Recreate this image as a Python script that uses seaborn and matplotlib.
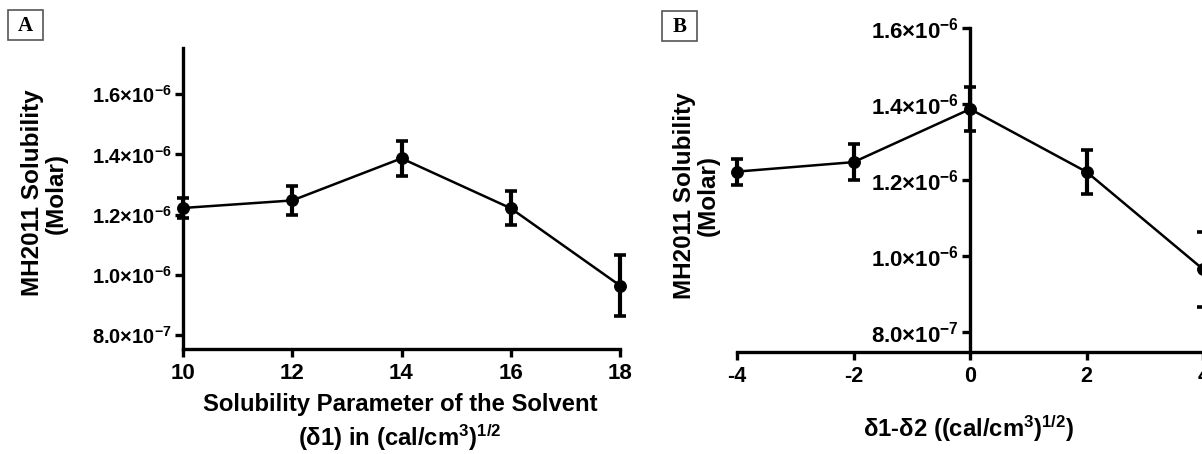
import matplotlib
matplotlib.use("Agg")
import matplotlib.pyplot as plt
import seaborn as sns
import numpy as np
from matplotlib.ticker import FuncFormatter
from matplotlib.patches import Rectangle

# ---- data ----
solvent_delta = [10, 12, 14, 16, 18]          # panel A x
delta_diff = [-4, -2, 0, 2, 4]                # panel B x
solubility = [1.222e-6, 1.247e-6, 1.387e-6, 1.221e-6, 0.964e-6]
solubility_err = [0.034e-6, 0.047e-6, 0.058e-6, 0.057e-6, 0.100e-6]
y_ticks = [0.8e-6, 1.0e-6, 1.2e-6, 1.4e-6, 1.6e-6]
xa_ticks = [10, 12, 14, 16, 18]
xb_ticks = [-4, -2, 0, 2, 4]

sns.set_theme(style="ticks")
plt.rcParams["font.family"] = ["Liberation Sans", "DejaVu Sans"]
plt.rcParams["font.weight"] = "bold"
plt.rcParams["mathtext.fontset"] = "custom"
plt.rcParams["mathtext.rm"] = "Liberation Sans:bold"
plt.rcParams["mathtext.bf"] = "Liberation Sans:bold"
plt.rcParams["mathtext.it"] = "Liberation Sans:bold"
plt.rcParams["axes.linewidth"] = 2.4
plt.rcParams["axes.unicode_minus"] = False
plt.rcParams["text.color"] = "black"
plt.rcParams["axes.labelcolor"] = "black"
plt.rcParams["xtick.color"] = "black"
plt.rcParams["ytick.color"] = "black"

W, H = 1202, 454
fig = plt.figure(figsize=(W / 100, H / 100), dpi=100)


def sci(v, pos):
    m, e = f"{v:.1e}".split("e")
    return f"{m}×10$^{{{int(e)}}}$"


def draw(ax, xs, xticks, xlim, ylim, ytick_size, xtick_size):
    sns.lineplot(x=xs, y=solubility, ax=ax, color="black", marker="o",
                 markersize=8.5, linewidth=1.8, markeredgecolor="black",
                 clip_on=False, zorder=4)
    ax.errorbar(xs, solubility, yerr=solubility_err, fmt="none", ecolor="black",
                elinewidth=3, capsize=4.2, capthick=2.6, clip_on=False, zorder=5)
    ax.set_xlim(*xlim)
    ax.set_ylim(*ylim)
    ax.set_xticks(xticks)
    ax.set_yticks(y_ticks)
    ax.yaxis.set_major_formatter(FuncFormatter(sci))
    ax.tick_params(axis="y", length=6, width=2.4, labelsize=ytick_size, pad=2, colors="black")
    ax.tick_params(axis="x", length=6, width=2.4, labelsize=xtick_size, pad=4, colors="black")
    for s in ("top", "right"):
        ax.spines[s].set_visible(False)
    for s in ("left", "bottom"):
        ax.spines[s].set_color("black")
    ax.set_xlabel("")
    ax.set_ylabel("")
    ax.grid(False)


# Panel A
axA = fig.add_axes([183 / W, 1 - 349 / H, (620 - 183) / W, (349 - 48) / H])
draw(axA, solvent_delta, xa_ticks, (10, 18), (0.753e-6, 1.754e-6), 14.5, 16)

# Panel B
axB = fig.add_axes([737 / W, 1 - 351.7 / H, (1203.3 - 737) / W, (351.7 - 28.3) / H])
draw(axB, delta_diff, xb_ticks, (-4, 4), (0.747e-6, 1.6e-6), 16, 15.5)
axB.spines["left"].set_position(("data", 0))

# y labels
fig.text(44 / W, 1 - 193 / H, "MH2011 Solubility\n(Molar)", rotation=90,
         ha="center", va="center", fontsize=17.5, fontweight="bold",
         multialignment="center", linespacing=1.05)
fig.text(696 / W, 1 - 196 / H, "MH2011 Solubility\n(Molar)", rotation=90,
         ha="center", va="center", fontsize=17.5, fontweight="bold",
         multialignment="center", linespacing=1.05)

# x labels
fig.text(400 / W, 1 - 404 / H, "Solubility Parameter of the Solvent",
         ha="center", va="center", fontsize=17.2, fontweight="bold")
fig.text(400 / W, 1 - 438 / H, "(δ1) in (cal/cm$^{3}$)$^{1/2}$",
         ha="center", va="center", fontsize=17.2, fontweight="bold")
fig.text(969 / W, 1 - 429 / H, "δ1-δ2 ((cal/cm$^{3}$)$^{1/2}$)",
         ha="center", va="center", fontsize=17.2, fontweight="bold")

# panel letters in boxes
for (x0, y0, w, h, letter) in [(8, 10, 35, 30, "A"), (662, 11, 35, 30, "B")]:
    fig.patches.append(Rectangle((x0 / W, 1 - (y0 + h) / H), w / W, h / H,
                                 transform=fig.transFigure, fill=False,
                                 edgecolor="#555555", linewidth=1.2))
    fig.text((x0 + w / 2) / W, 1 - (y0 + h / 2 + 1) / H, letter, ha="center", va="center",
             fontsize=15, fontweight="bold", family=["Liberation Serif", "DejaVu Serif"])

fig.savefig("out.png", dpi=100, facecolor="white")
